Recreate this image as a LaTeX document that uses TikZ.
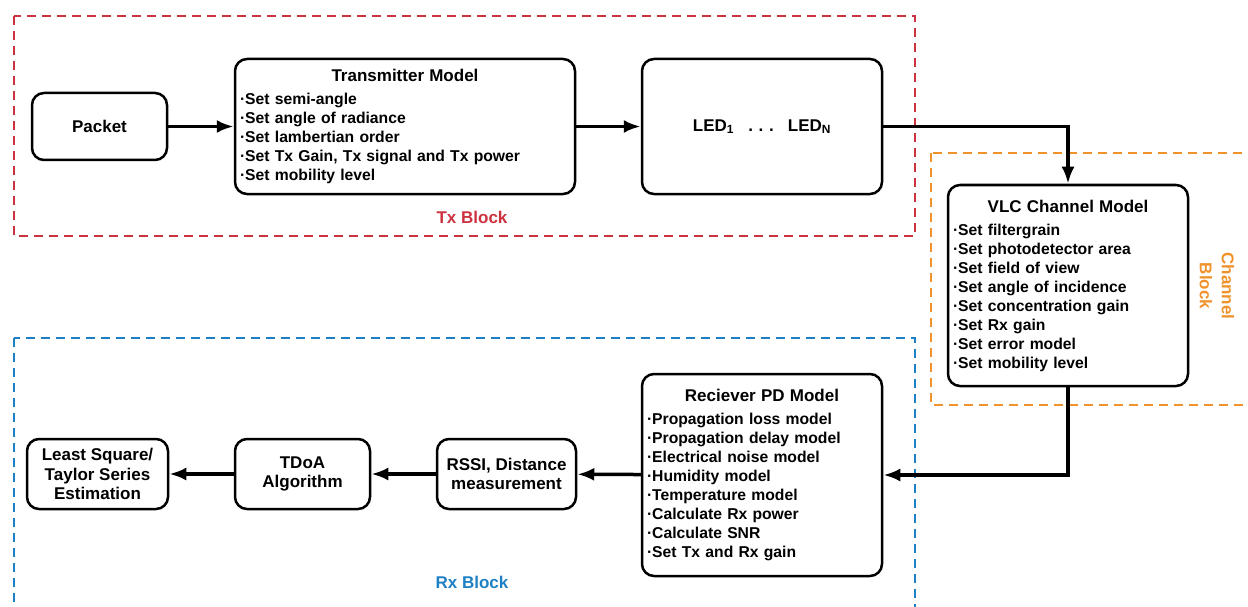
\documentclass[tikz,border=0pt]{standalone}
\usepackage{fontspec}
\setmainfont{Liberation Sans}
\usetikzlibrary{arrows.meta}

\definecolor{txred}{RGB}{204,50,64}
\definecolor{chorange}{RGB}{240,146,44}
\definecolor{rxblue}{RGB}{30,128,196}

\newcommand{\modeltitle}[1]{{\centering\fontsize{17}{20}\selectfont #1\par}\vspace{4pt}}

\begin{document}
\begin{tikzpicture}[
    x=1pt, y=-1pt,
    simple/.style={rectangle, draw, line width=2.5pt, rounded corners=12pt,
        align=center, inner sep=3pt, font=\bfseries\fontsize{17}{19.5}\selectfont},
    model/.style={rectangle, draw, line width=2.5pt, rounded corners=12pt,
        align=left, inner xsep=5pt, inner ysep=2pt, font=\bfseries\fontsize{15.7}{19}\selectfont},
    block/.style={line width=2pt, dash pattern=on 9pt off 6pt},
    blocklabel/.style={font=\bfseries\fontsize{17}{22}\selectfont, align=center},
    flow/.style={line width=3.5pt, -{Latex[length=17pt, width=13pt]}}
]
\useasboundingbox (0,0) rectangle (1248,607);

% dashed blocks
\draw [block, txred] (14,16) rectangle (915,236);
\draw [block, chorange] (931,153) rectangle (1262,405);
\draw [block, rxblue] (14,338) rectangle (915,625);

\node (TxLabel) [blocklabel, text=txred] at (472,217) {Tx Block};
\node (ChannelLabel) [blocklabel, text=chorange, rotate=-90] at (1217,286) {Channel\\Block};
\node (RxLabel) [blocklabel, text=rxblue] at (472,582) {Rx Block};

% tx side
\node (Packet) [simple, minimum width=135pt, minimum height=67pt] at (99.5,126.5) {Packet};
\node (Transmitter) [model, text width=330pt, minimum width=340pt, minimum height=135pt] at (405,126.5)
  {\modeltitle{Transmitter Model}
   ·Set semi-angle\\
   ·Set angle of radiance\\
   ·Set lambertian order\\
   ·Set Tx Gain, Tx signal and Tx power\\
   ·Set mobility level};
\node (LED) [simple, minimum width=240pt, minimum height=135pt] at (762,126.5)
  {LED\textsubscript{1}\ \ \ .\,\,.\,\,.\ \ \ LED\textsubscript{N}};

% channel
\node (VLC) [model, text width=230pt, minimum width=240pt, minimum height=201pt] at (1068,285.5)
  {\modeltitle{VLC Channel Model}
   ·Set filtergrain\\
   ·Set photodetector area\\
   ·Set field of view\\
   ·Set angle of incidence\\
   ·Set concentration gain\\
   ·Set Rx gain\\
   ·Set error model\\
   ·Set mobility level};

% rx side
\node (Receiver) [model, text width=230pt, minimum width=240pt, minimum height=202pt] at (762,475)
  {\modeltitle{Reciever PD Model}
   ·Propagation loss model\\
   ·Propagation delay model\\
   ·Electrical noise model\\
   ·Humidity model\\
   ·Temperature model\\
   ·Calculate Rx power\\
   ·Calculate SNR\\
   ·Set Tx and Rx gain};
\node (RSSI) [simple, minimum width=139pt, minimum height=70pt] at (506.5,474) {RSSI, Distance\\measurement};
\node (TDoA) [simple, minimum width=135pt, minimum height=70pt] at (302.5,474) {TDoA\\Algorithm};
\node (Estimation) [simple, minimum width=141pt, minimum height=70pt] at (97.5,474) {Least Square/\\Taylor Series\\Estimation};

\draw [flow] (Packet) -- (Transmitter);
\draw [flow] (Transmitter) -- (LED);
\draw [flow] (LED) -| (VLC);
\draw [flow] (VLC) |- (Receiver);
\draw [flow] (Receiver) -- (RSSI);
\draw [flow] (RSSI) -- (TDoA);
\draw [flow] (TDoA) -- (Estimation);

\end{tikzpicture}
\end{document}
